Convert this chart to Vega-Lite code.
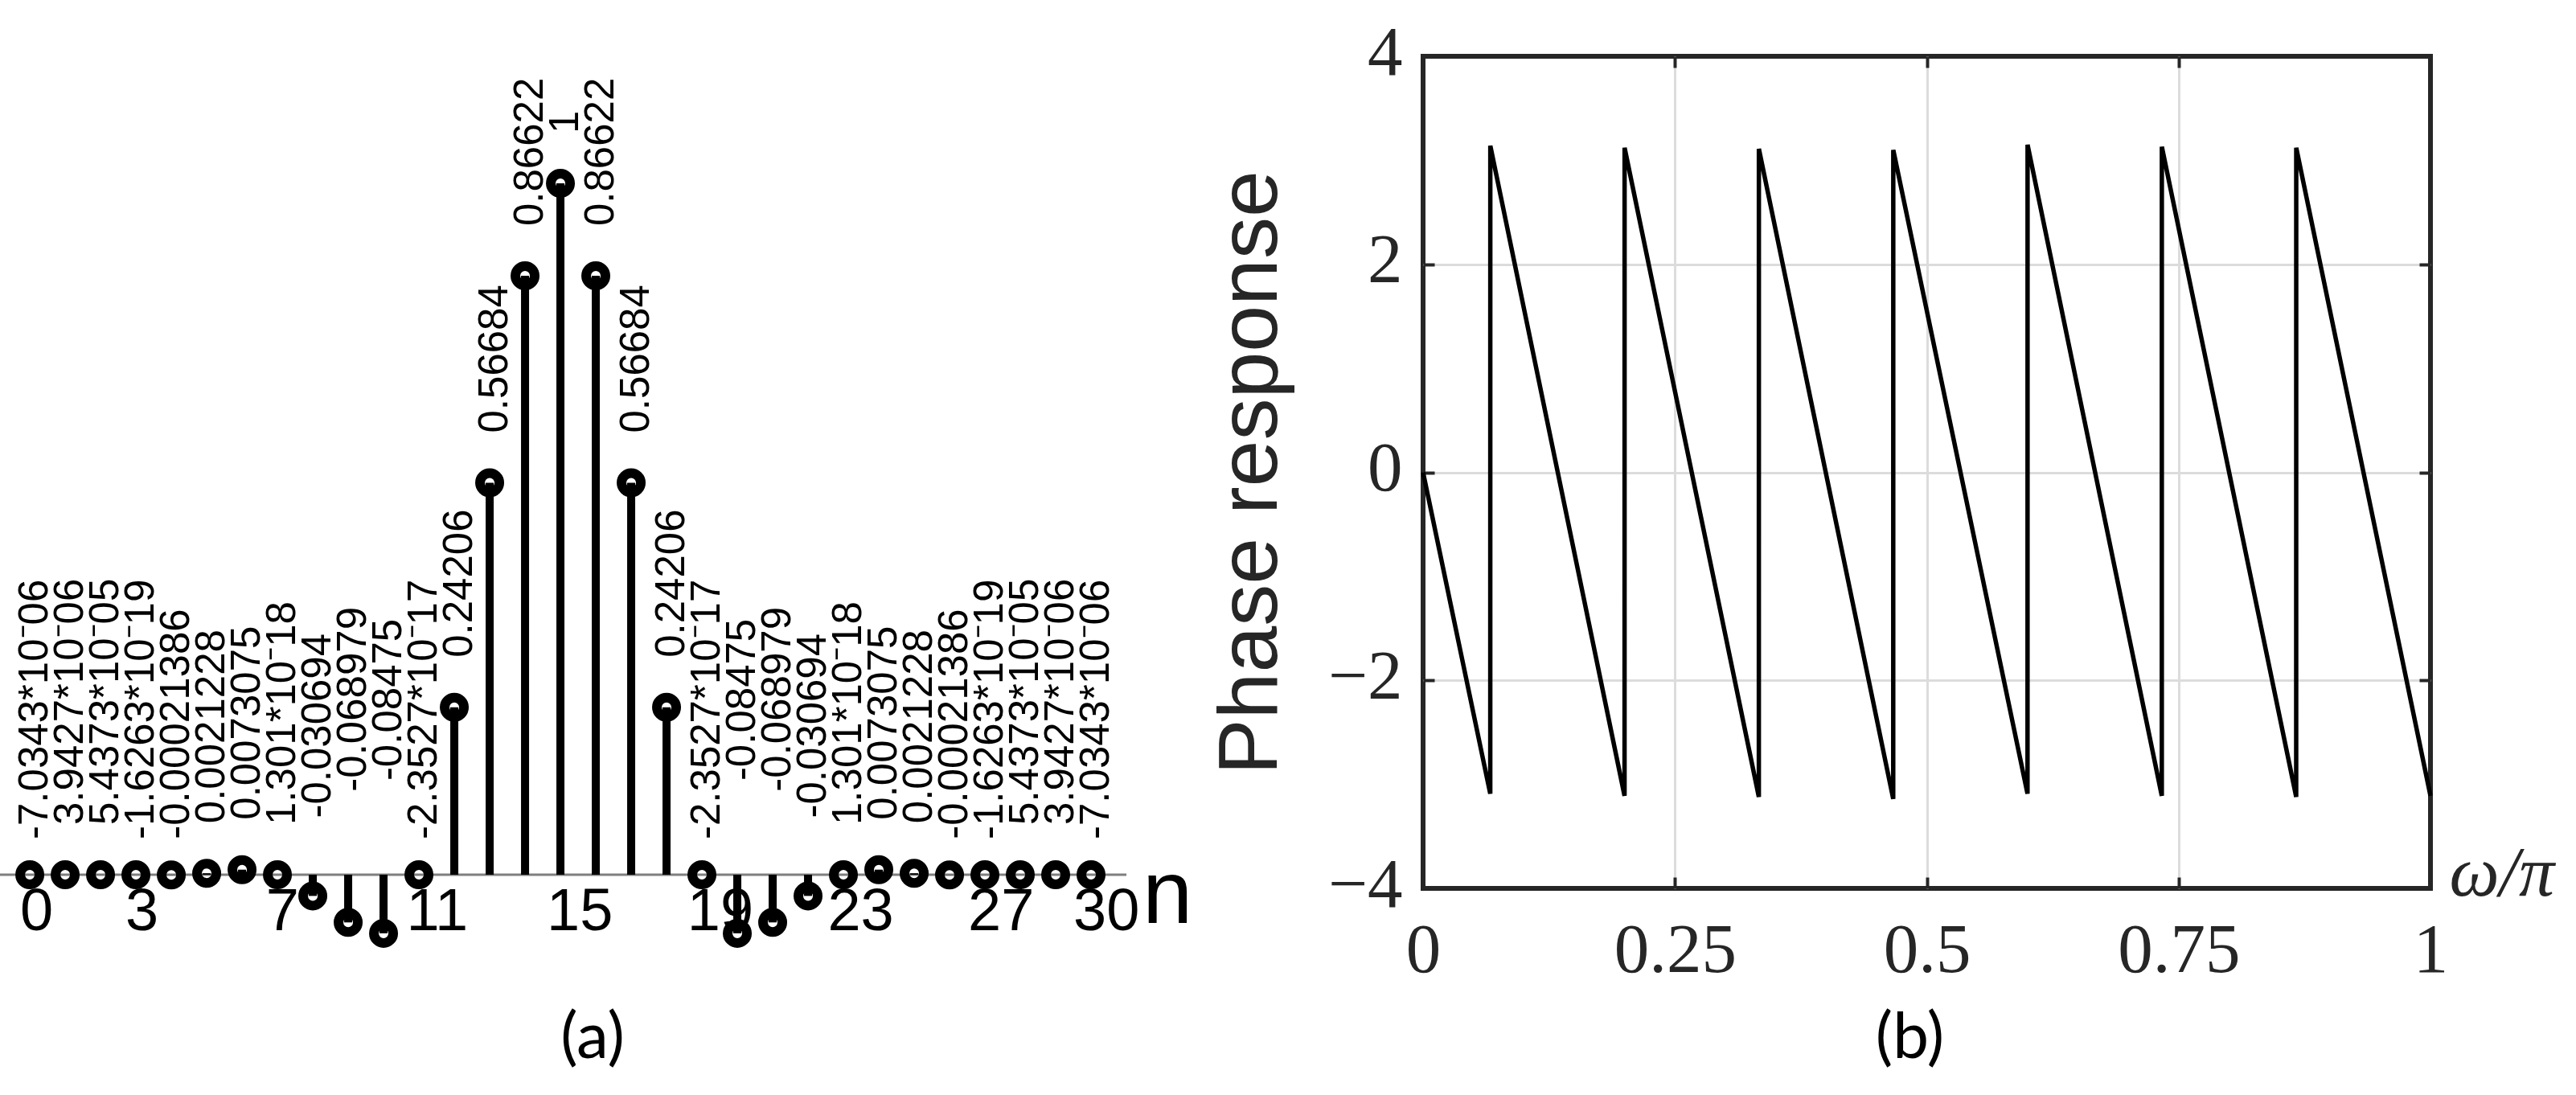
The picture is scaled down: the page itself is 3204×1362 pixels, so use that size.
{
  "$schema": "https://vega.github.io/schema/vega-lite/v6.json",
  "width": 1253,
  "height": 1035,
  "autosize": {"type": "none"},
  "padding": {"left": 1770, "top": 70, "right": 181, "bottom": 257},
  "background": "white",
  "config": {
    "view": {"stroke": "#262626", "strokeWidth": 6},
    "axis": {"domain": false, "labelFlush": false, "labelOverlap": false}
  },
  "datasets": {
    "phase": [
      {"w": 0, "p": 0},
      {"w": 0.0667, "p": -3.09}, {"w": 0.06675, "p": 3.14},
      {"w": 0.2, "p": -3.11}, {"w": 0.20005, "p": 3.12},
      {"w": 0.3333, "p": -3.12}, {"w": 0.33335, "p": 3.11},
      {"w": 0.4667, "p": -3.14}, {"w": 0.46675, "p": 3.10},
      {"w": 0.6, "p": -3.09}, {"w": 0.60005, "p": 3.15},
      {"w": 0.7333, "p": -3.11}, {"w": 0.73335, "p": 3.13},
      {"w": 0.8667, "p": -3.12}, {"w": 0.86675, "p": 3.12},
      {"w": 1, "p": -3.11}
    ],
    "stem": [
      {"n": 0, "h": -7.0343e-06, "lab": "-7.0343*10⁻06"},
      {"n": 1, "h": 3.9427e-06, "lab": "3.9427*10⁻06"},
      {"n": 2, "h": 5.4373e-05, "lab": "5.4373*10⁻05"},
      {"n": 3, "h": -1.6263e-19, "lab": "-1.6263*10⁻19"},
      {"n": 4, "h": -0.00021386, "lab": "-0.00021386"},
      {"n": 5, "h": 0.0021228, "lab": "0.0021228"},
      {"n": 6, "h": 0.0073075, "lab": "0.0073075"},
      {"n": 7, "h": 1.301e-18, "lab": "1.301*10⁻18"},
      {"n": 8, "h": -0.030694, "lab": "-0.030694"},
      {"n": 9, "h": -0.068979, "lab": "-0.068979"},
      {"n": 10, "h": -0.08475, "lab": "-0.08475"},
      {"n": 11, "h": -2.3527e-17, "lab": "-2.3527*10⁻17"},
      {"n": 12, "h": 0.24206, "lab": "0.24206"},
      {"n": 13, "h": 0.56684, "lab": "0.56684"},
      {"n": 14, "h": 0.86622, "lab": "0.86622"},
      {"n": 15, "h": 1, "lab": "1"},
      {"n": 16, "h": 0.86622, "lab": "0.86622"},
      {"n": 17, "h": 0.56684, "lab": "0.56684"},
      {"n": 18, "h": 0.24206, "lab": "0.24206"},
      {"n": 19, "h": -2.3527e-17, "lab": "-2.3527*10⁻17"},
      {"n": 20, "h": -0.08475, "lab": "-0.08475"},
      {"n": 21, "h": -0.068979, "lab": "-0.068979"},
      {"n": 22, "h": -0.030694, "lab": "-0.030694"},
      {"n": 23, "h": 1.301e-18, "lab": "1.301*10⁻18"},
      {"n": 24, "h": 0.0073075, "lab": "0.0073075"},
      {"n": 25, "h": 0.0021228, "lab": "0.0021228"},
      {"n": 26, "h": -0.00021386, "lab": "-0.00021386"},
      {"n": 27, "h": -1.6263e-19, "lab": "-1.6263*10⁻19"},
      {"n": 28, "h": 5.4373e-05, "lab": "5.4373*10⁻05"},
      {"n": 29, "h": 3.9427e-06, "lab": "3.9427*10⁻06"},
      {"n": 30, "h": -7.0343e-06, "lab": "-7.0343*10⁻06"}
    ],
    "nticks": [
      {"t": 0}, {"t": 3}, {"t": 7}, {"t": 11}, {"t": 15},
      {"t": 19}, {"t": 23}, {"t": 27}, {"t": 30}
    ]
  },
  "layer": [
    {
      "data": {"name": "phase"},
      "mark": {"type": "line", "color": "black", "strokeWidth": 5.5, "strokeJoin": "miter"},
      "encoding": {
        "x": {
          "field": "w", "type": "quantitative",
          "scale": {"domain": [0, 1], "nice": false, "zero": false},
          "axis": {
            "orient": "bottom", "values": [0, 0.25, 0.5, 0.75, 1],
            "labelExpr": "format(datum.value, '.2~f')",
            "grid": false, "tickSize": -14, "tickWidth": 4, "tickColor": "#262626",
            "labelFont": "Liberation Serif", "labelFontSize": 87, "labelColor": "#262626", "labelPadding": 48,
            "title": "ω/π", "titleFont": "Liberation Serif", "titleFontStyle": "italic", "titleFontWeight": "normal",
            "titleFontSize": 88, "titleColor": "#262626", "titleX": 1276, "titleY": 8,
            "titleAlign": "left", "titleBaseline": "alphabetic", "titleAngle": 0
          }
        },
        "y": {
          "field": "p", "type": "quantitative",
          "scale": {"domain": [-4, 4], "nice": false, "zero": false},
          "axis": {
            "orient": "left", "values": [-4, -2, 0, 2, 4], "format": "d",
            "grid": false, "tickSize": -14, "tickWidth": 4, "tickColor": "#262626",
            "labelFont": "Liberation Serif", "labelFontSize": 87, "labelColor": "#262626", "labelPadding": 40, "labelOffset": -4,
            "title": "Phase response", "titleFont": "Liberation Sans", "titleFontSize": 104, "titleFontWeight": "normal",
            "titleColor": "#262626", "titleX": -183, "titleY": 517.5, "titleAngle": 270,
            "titleAlign": "center", "titleBaseline": "alphabetic"
          }
        }
      }
    },
    {
      "data": {"name": "phase"},
      "mark": {"type": "point", "opacity": 0},
      "encoding": {
        "x": {
          "field": "w", "type": "quantitative",
          "scale": {"domain": [0, 1], "nice": false, "zero": false},
          "axis": {
            "orient": "top", "values": [0.25, 0.5, 0.75], "labels": false, "title": null,
            "grid": true, "gridColor": "#dcdcdc", "gridWidth": 3, "gridOpacity": 1,
            "tickSize": -14, "tickWidth": 4, "tickColor": "#262626"
          }
        },
        "y": {
          "field": "p", "type": "quantitative",
          "scale": {"domain": [-4, 4], "nice": false, "zero": false},
          "axis": {
            "orient": "right", "values": [-2, 0, 2], "labels": false, "title": null,
            "grid": true, "gridColor": "#dcdcdc", "gridWidth": 3, "gridOpacity": 1,
            "tickSize": -14, "tickWidth": 4, "tickColor": "#262626"
          }
        }
      }
    },
    {
      "data": {"values": [{}]},
      "mark": {"type": "rule", "color": "#7f7f7f", "strokeWidth": 3},
      "encoding": {
        "x": {"datum": -1, "scale": {"domain": [39.386, 67.864], "nice": false, "zero": false}, "axis": null},
        "x2": {"datum": 31},
        "y": {"datum": 0, "scale": {"domain": [-0.01977, 1.18372], "nice": false, "zero": false}, "axis": null}
      }
    },
    {
      "data": {"name": "stem"},
      "mark": {"type": "point", "shape": "circle", "filled": false, "color": "black", "strokeWidth": 12, "size": 576, "opacity": 1},
      "encoding": {
        "x": {"field": "n", "type": "quantitative", "scale": {"domain": [39.386, 67.864], "nice": false, "zero": false}, "axis": null},
        "y": {"field": "h", "type": "quantitative", "scale": {"domain": [-0.01977, 1.18372], "nice": false, "zero": false}, "axis": null}
      }
    },
    {
      "data": {"name": "stem"},
      "mark": {"type": "rule", "color": "black", "strokeWidth": 10},
      "encoding": {
        "x": {"field": "n", "type": "quantitative", "scale": {"domain": [39.386, 67.864], "nice": false, "zero": false}, "axis": null},
        "y": {"field": "h", "type": "quantitative", "scale": {"domain": [-0.01977, 1.18372], "nice": false, "zero": false}, "axis": null},
        "y2": {"datum": 0}
      }
    },
    {
      "data": {"name": "stem"},
      "transform": [{"filter": {"field": "h", "gte": 0}}],
      "mark": {"type": "text", "angle": 270, "align": "left", "baseline": "middle", "dx": 62, "dy": 7, "font": "Liberation Sans", "fontSize": 51, "color": "black"},
      "encoding": {
        "x": {"field": "n", "type": "quantitative", "scale": {"domain": [39.386, 67.864], "nice": false, "zero": false}, "axis": null},
        "y": {"field": "h", "type": "quantitative", "scale": {"domain": [-0.01977, 1.18372], "nice": false, "zero": false}, "axis": null},
        "text": {"field": "lab", "type": "nominal"}
      }
    },
    {
      "data": {"name": "stem"},
      "transform": [{"filter": {"field": "h", "lt": 0}}],
      "mark": {"type": "text", "angle": 270, "align": "left", "baseline": "middle", "dx": 44, "dy": 7, "font": "Liberation Sans", "fontSize": 51, "color": "black"},
      "encoding": {
        "x": {"field": "n", "type": "quantitative", "scale": {"domain": [39.386, 67.864], "nice": false, "zero": false}, "axis": null},
        "y": {"field": "h", "type": "quantitative", "scale": {"domain": [-1.18372, 0.01977], "reverse": true, "nice": false, "zero": false}, "axis": null},
        "text": {"field": "lab", "type": "nominal"}
      }
    },
    {
      "data": {"name": "nticks"},
      "mark": {"type": "text", "align": "left", "baseline": "alphabetic", "dy": 69, "font": "Liberation Sans", "fontSize": 74, "color": "black"},
      "encoding": {
        "x": {"field": "t", "type": "quantitative", "scale": {"domain": [39.959, 68.652], "nice": false, "zero": false}, "axis": null},
        "y": {"datum": 0, "scale": {"domain": [-0.01977, 1.18372], "nice": false, "zero": false}, "axis": null},
        "text": {"field": "t", "type": "quantitative"}
      }
    },
    {
      "data": {"values": [{}]},
      "mark": {"type": "text", "text": "n", "align": "left", "baseline": "alphabetic", "dy": 60, "font": "Liberation Sans", "fontSize": 112, "color": "black"},
      "encoding": {
        "x": {"datum": 31.4545, "scale": {"domain": [39.386, 67.864], "nice": false, "zero": false}, "axis": null},
        "y": {"datum": 0, "scale": {"domain": [-0.01977, 1.18372], "nice": false, "zero": false}, "axis": null}
      }
    },
    {
      "data": {"values": [{}]},
      "mark": {"type": "text", "text": "(a)", "align": "center", "baseline": "middle", "dy": 204, "font": "Lato", "fontSize": 80, "color": "black"},
      "encoding": {
        "x": {"datum": 15.909, "scale": {"domain": [39.386, 67.864], "nice": false, "zero": false}, "axis": null},
        "y": {"datum": 0, "scale": {"domain": [-0.01977, 1.18372], "nice": false, "zero": false}, "axis": null}
      }
    },
    {
      "data": {"values": [{}]},
      "mark": {"type": "text", "text": "(b)", "align": "center", "baseline": "middle", "dy": 187, "font": "Lato", "fontSize": 80, "color": "black"},
      "encoding": {
        "x": {"datum": 0.4832, "scale": {"domain": [0, 1], "nice": false, "zero": false}, "axis": null},
        "y": {"datum": -4, "scale": {"domain": [-4, 4], "nice": false, "zero": false}, "axis": null}
      }
    }
  ],
  "resolve": {"scale": {"x": "independent", "y": "independent"}}
}
